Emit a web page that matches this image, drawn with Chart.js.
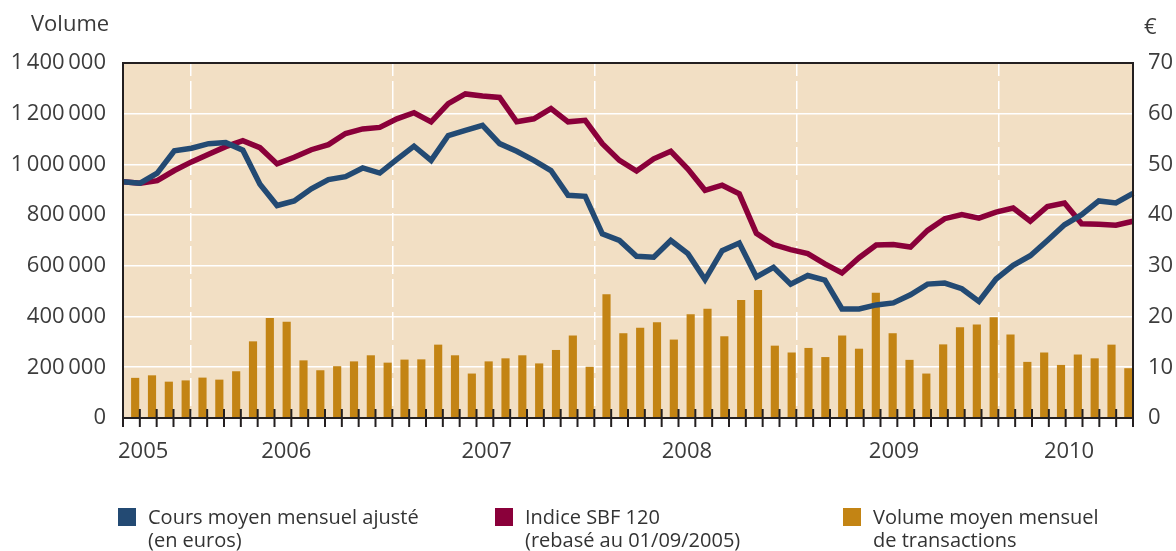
<!DOCTYPE html>
<html lang="fr">
<head>
<meta charset="utf-8">
<title>Cours moyen, SBF 120 et volume de transactions</title>
<script src="https://cdn.jsdelivr.net/npm/chart.js@4.4.1/dist/chart.umd.min.js"></script>
<style>
  body { margin: 0; background: #fff; overflow: hidden; }
  #zone { position: relative; width: 1176px; height: 551px; font-family: 'Open Sans', sans-serif; }
  #graphique { position: absolute; left: 0; top: 0; }
  .titre-axe { position: absolute; font-size: 22px; line-height: 26px; color: #3a3a3a; }
  .legende { position: absolute; top: 505px; font-size: 20px; line-height: 23px; color: #333; white-space: nowrap; }
  .legende span { position: absolute; left: 0; top: 3px; width: 18px; height: 18px; }
  .legende div { margin-left: 30px; }
</style>
</head>
<body>
<div id="zone">
  <canvas id="graphique" width="1176" height="551"></canvas>
  <div class="titre-axe" style="left:31px; top:9px;">Volume</div>
  <div class="titre-axe" style="left:1144px; top:12px;">€</div>
  <div class="legende" style="left:118px;"><span style="background:#234a73"></span><div>Cours moyen mensuel ajusté<br>(en euros)</div></div>
  <div class="legende" style="left:495px;"><span style="background:#8a003a"></span><div>Indice SBF 120<br>(rebasé au 01/09/2005)</div></div>
  <div class="legende" style="left:843px;"><span style="background:#c38414"></span><div>Volume moyen mensuel<br>de transactions</div></div>
</div>
<script>
// mois de sept. 2005 à août 2010
const mois = [
    "09/2005", "10/2005", "11/2005", "12/2005",
    "01/2006", "02/2006", "03/2006", "04/2006", "05/2006", "06/2006", "07/2006", "08/2006", "09/2006", "10/2006", "11/2006", "12/2006",
    "01/2007", "02/2007", "03/2007", "04/2007", "05/2007", "06/2007", "07/2007", "08/2007", "09/2007", "10/2007", "11/2007", "12/2007",
    "01/2008", "02/2008", "03/2008", "04/2008", "05/2008", "06/2008", "07/2008", "08/2008", "09/2008", "10/2008", "11/2008", "12/2008",
    "01/2009", "02/2009", "03/2009", "04/2009", "05/2009", "06/2009", "07/2009", "08/2009", "09/2009", "10/2009", "11/2009", "12/2009",
    "01/2010", "02/2010", "03/2010", "04/2010", "05/2010", "06/2010", "07/2010", "08/2010"
];

const volumeMensuel = [
    157000, 167000, 142000, 147000,
    158000, 150000, 183000, 301000, 393000, 378000, 226000, 187000, 203000, 222000, 246000, 217000,
    229000, 230000, 288000, 246000, 174000, 222000, 234000, 246000, 214000, 267000, 324000, 201000,
    487000, 333000, 355000, 376000, 308000, 408000, 430000, 321000, 464000, 503000, 284000, 257000,
    275000, 239000, 324000, 272000, 493000, 333000, 228000, 174000, 289000, 357000, 367000, 396000,
    328000, 220000, 257000, 208000, 249000, 234000, 288000, 195000
];

const coursMoyen = [
    46.6, 46.3, 48.3, 52.7, 53.2, 54.1, 54.3, 52.8, 46.1, 41.9,
    42.8, 45.2, 47.0, 47.6, 49.3, 48.3, 51.0, 53.6, 50.8, 55.7,
    56.7, 57.7, 54.1, 52.6, 50.8, 48.8, 43.9, 43.7, 36.3, 35.0,
    31.9, 31.7, 35.0, 32.4, 27.3, 33.0, 34.5, 27.8, 29.7, 26.4,
    28.1, 27.2, 21.5, 21.5, 22.3, 22.7, 24.3, 26.4, 26.6, 25.5,
    23.0, 27.4, 30.1, 32.0, 35.0, 38.1, 40.1, 42.8, 42.4, 44.3
];

const indiceSbf120 = [
    46.6, 46.3, 46.8, 48.8, 50.5, 52.0, 53.5, 54.7, 53.3, 50.1,
    51.4, 52.9, 53.9, 56.1, 57.0, 57.3, 59.0, 60.2, 58.4, 62.0,
    63.9, 63.5, 63.2, 58.4, 59.0, 61.0, 58.4, 58.7, 54.1, 50.8,
    48.7, 51.1, 52.6, 49.1, 44.9, 45.9, 44.2, 36.4, 34.2, 33.2,
    32.4, 30.4, 28.6, 31.6, 34.1, 34.2, 33.7, 37.0, 39.3, 40.1,
    39.4, 40.6, 41.4, 38.8, 41.7, 42.4, 38.3, 38.2, 38.0, 38.8
];

// étiquettes des années (position en nombre de mois depuis le bord gauche)
const anneesTexte = ["2005", "2006", "2007", "2008", "2009", "2010"];
const anneesPosition = [1.2, 9.7, 21.6, 33.5, 45.8, 56.2];
// index des mois de janvier (traits pointillés)
const debutsAnnee = [4, 16, 28, 40, 52];

const couleurTexte = "#3c3c3c";
const couleurCadre = "#231f20";

function formaterMilliers(valeur) {
    return String(valeur).replace(/\B(?=(\d{3})+(?!\d))/g, "\u2009");
}

/* =========================
   FOND, CADRE ET GRADUATIONS
   ========================= */
const fondEtCadre = {
    id: "fondEtCadre",
    beforeDraw(chart) {
        const { ctx, chartArea } = chart;
        ctx.save();
        ctx.fillStyle = "#f2dfc4";
        ctx.fillRect(chartArea.left, chartArea.top, chartArea.width, chartArea.height);
        ctx.restore();
    },
    afterDatasetsDraw(chart) {
        const { ctx, chartArea } = chart;
        const axeMois = chart.scales.x;
        ctx.save();
        ctx.strokeStyle = couleurCadre;
        ctx.lineWidth = 2;
        ctx.beginPath();
        for (let i = 0; i <= mois.length; i++) {
            const px = axeMois.getPixelForValue(i - 0.5);
            ctx.moveTo(px, chartArea.bottom - 9);
            ctx.lineTo(px, chartArea.bottom + 9);
        }
        ctx.stroke();
        ctx.strokeRect(chartArea.left, chartArea.top, chartArea.width, chartArea.height);
        ctx.restore();
    }
};

const policeGraduation = { family: "'Open Sans', sans-serif", size: 22 };

new Chart(document.getElementById("graphique"), {
    data: {
        labels: mois,
        datasets: [
            {
                type: "line",
                label: "Cours moyen mensuel ajusté (en euros)",
                data: coursMoyen,
                xAxisID: "xLigne",
                yAxisID: "yEuro",
                borderColor: "#234a73",
                borderWidth: 5.5,
                pointRadius: 0,
                tension: 0,
                order: 0
            },
            {
                type: "line",
                label: "Indice SBF 120 (rebasé au 01/09/2005)",
                data: indiceSbf120,
                xAxisID: "xLigne",
                yAxisID: "yEuro",
                borderColor: "#8a003a",
                borderWidth: 5.5,
                pointRadius: 0,
                tension: 0,
                order: 1
            },
            {
                type: "bar",
                label: "Volume moyen mensuel de transactions",
                data: volumeMensuel,
                xAxisID: "x",
                yAxisID: "yVolume",
                backgroundColor: "#c38414",
                barThickness: 7.5,
                order: 2
            }
        ]
    },
    options: {
        responsive: false,
        animation: false,
        devicePixelRatio: 1,
        layout: { padding: { top: 63, bottom: 83, left: 0, right: 0 } },
        plugins: {
            legend: { display: false },
            tooltip: { enabled: false }
        },
        scales: {
            x: {
                type: "category",
                position: "bottom",
                offset: true,
                weight: 0,
                grid: {
                    offset: true,
                    drawTicks: false,
                    lineWidth: 1.5,
                    color: c => debutsAnnee.includes(c.index) ? "#ffffff" : "rgba(0,0,0,0)"
                },
                border: { display: false, dash: [28, 5], dashOffset: 15 },
                ticks: { display: false }
            },
            xLigne: {
                type: "category",
                position: "bottom",
                offset: false,
                display: false
            },
            xAnnees: {
                type: "linear",
                position: "bottom",
                weight: 1,
                min: 0,
                max: 60,
                grid: { display: false, drawTicks: false },
                border: { display: false },
                afterBuildTicks: axe => {
                    axe.ticks = anneesPosition.map(v => ({ value: v }));
                },
                afterFit: axe => { axe.height = 50; },
                ticks: {
                    autoSkip: false,
                    maxRotation: 0,
                    padding: 21,
                    color: couleurTexte,
                    font: policeGraduation,
                    callback: v => anneesTexte[anneesPosition.indexOf(v)]
                }
            },
            yVolume: {
                type: "linear",
                position: "left",
                min: 0,
                max: 1400000,
                afterFit: axe => { axe.width = 123; },
                grid: { color: "#ffffff", lineWidth: 1.6, drawTicks: false },
                border: { display: false },
                ticks: {
                    stepSize: 200000,
                    padding: 17,
                    color: couleurTexte,
                    font: policeGraduation,
                    callback: v => formaterMilliers(v)
                }
            },
            yEuro: {
                type: "linear",
                position: "right",
                min: 0,
                max: 70,
                afterFit: axe => { axe.width = 43; },
                grid: { display: false, drawTicks: false },
                border: { display: false },
                ticks: {
                    stepSize: 10,
                    padding: 15,
                    color: couleurTexte,
                    font: policeGraduation
                }
            }
        }
    },
    plugins: [fondEtCadre]
});
</script>
</body>
</html>
